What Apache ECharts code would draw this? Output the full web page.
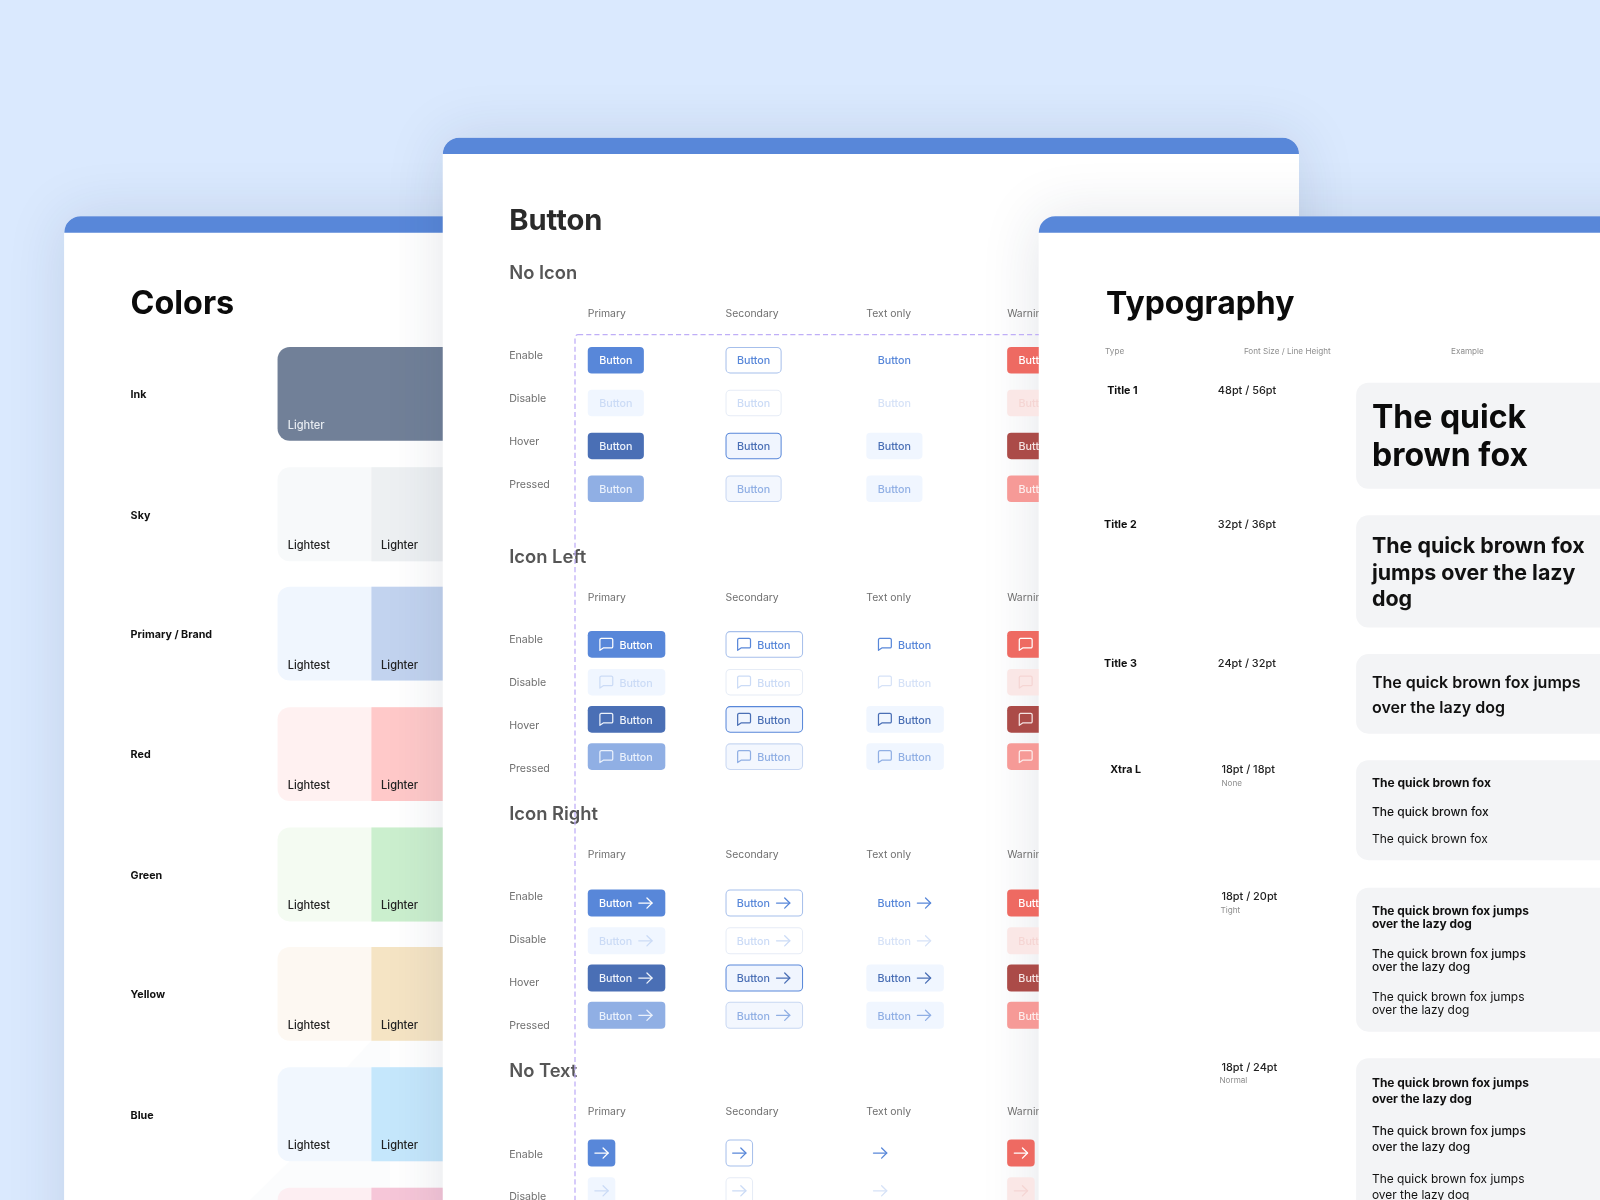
<!DOCTYPE html>
<html><head><meta charset="utf-8">
<script src="https://cdn.jsdelivr.net/npm/echarts@6/dist/echarts.min.js"></script>
<style>html,body{margin:0;padding:0;background:#DAE9FE}#c{width:1600px;height:1200px}</style>
</head><body><div id="c"></div>
<script>
// ---- content ----
const swatchNames = ['Ink','Sky','Primary / Brand','Red','Green','Yellow','Blue','Pink'];
const swatchLabels = ['Lightest','Lighter'];
const sectionNames = ['No Icon','Icon Left','Icon Right','No Text'];
const variantNames = ['Primary','Secondary','Text only','Warning'];
const stateNames = ['Enable','Disable','Hover','Pressed'];
const typeNames = ['Title 1','Title 2','Title 3','Xtra L'];
const sizeLabels = ['48pt / 56pt','32pt / 36pt','24pt / 32pt','18pt / 18pt','18pt / 20pt','18pt / 24pt'];
const lineKinds = ['None','Tight','Normal'];
const typeHeads = ['Type','Font Size / Line Height','Example'];
const exampleOne = ['The quick','brown fox'];
const exampleTwo = ['The quick brown fox','jumps over the lazy','dog'];
const exampleThree = ['The quick brown fox jumps','over the lazy dog'];
const exampleShort = 'The quick brown fox';

// ---- palette ----
const lightestColors = ['#718098','#F7F9FA','#F0F6FE','#FFF1F1','#F4FBF2','#FDF8F2','#F1F7FE','#FDEEF2'];
const lighterColors  = ['#718098','#EDF0F2','#C2D3EF','#FFC9C9','#CBEFCE','#F5E4C4','#C5E7FC','#F6C6D8'];
const BLUE = '#5887D9';
const palettes = {
  Primary:   [{f:BLUE,t:'#fff'},{f:'#F0F6FF',t:'#CBDBF6'},{f:'#4A6FB5',t:'#EEF3FB'},{f:'#90AFE4',t:'#EAF1FC'}],
  Secondary: [{f:'#fff',s:'#A6BFEB',t:BLUE},{f:'#fff',s:'#E6ECF6',t:'#CBDBF6'},{f:'#F0F5FE',s:'#5887D9',t:'#4A6FB5'},{f:'#F3F7FE',s:'#C8D7F2',t:'#90AFE4'}],
  'Text only':[{t:BLUE},{t:'#D6E2F7'},{f:'#F0F6FF',t:'#4A6FB5'},{f:'#F0F6FF',t:'#90AFE4'}],
  Warning:   [{f:'#EE6A62',t:'#fff'},{f:'#FAE7E6',t:'#F5D5D3'},{f:'#AB4B48',t:'#F5E4E3'},{f:'#F69A97',t:'#FDEDEC'}]
};

// ---- layout (in 1568-wide design units) ----
const FONT = 'Inter, "Noto Sans", sans-serif';
const swatchTop = [340,458,575,693,811,928,1046,1164];
const variantX = [576,711,849,987];
const sectionLayout = [
  {head:267,col:306.6,label:[348,390,432,474],btn:[353,395,437,479],w:55,h:26,kind:'none'},
  {head:545,col:584.6,label:[626,668,710,752],btn:[631.5,668.5,705,741.5],w:76,h:26,kind:'left'},
  {head:797,col:836.6,label:[878,920,962,1004],btn:[885,922,958.5,995],w:76,h:26.5,kind:'right'},
  {head:1049,col:1088.6,label:[1131,1172],btn:[1130,1167],w:27,h:26.5,kind:'only'}
];
const els = [];
const text = (s,x,y,size,weight,fill,extra) => ({type:'text',silent:true,style:Object.assign({text:s,x,y:y+size*.05+.5,fill,
  font:`${weight} ${size}px ${FONT}`,textAlign:'left',align:'left',textVerticalAlign:'middle',verticalAlign:'middle',textBaseline:'middle'},extra||{})});
const rect = (x,y,w,h,r,style) => ({type:'rect',silent:true,shape:{x,y,width:w,height:h,r},style});
const shadow = (x,y,w,h) => els.push(rect(x,y,w,h,[16,16,0,0],{fill:'#fff',shadowBlur:58,shadowColor:'rgba(30,45,80,0.125)'}));
const face = (x,y,w,h) => {
  els.push(rect(x,y,w,h,[16,16,0,0],{fill:'#fff'}));
  els.push(rect(x,y,w,16,[16,16,0,0],{fill:BLUE}));
};
const line = (pts,c,lw,x,y) => ({type:'polyline',silent:true,x,y,shape:{points:pts},
  style:{fill:null,stroke:c,lineWidth:lw,lineCap:'round',lineJoin:'round'}});
const arrowShaft = [[-6.5,0],[6.5,0]], arrowHead = [[1.5,-5],[6.5,0],[1.5,5]];
const bubbleOutline = [[-5.2,-5.8],[5.2,-5.8],[6,-5.4],[6.3,-4.6],[6.3,2.4],[6,3.2],[5.2,3.5],[-3,3.5],[-6.3,5.8],[-6.3,-4.6],[-6,-5.4],[-5.2,-5.8]];
const arrow = (cx,cy,c) => { els.push(line(arrowShaft,c,1.25,cx,cy)); els.push(line(arrowHead,c,1.25,cx,cy)); };
const bubble = (cx,cy,c) => { els.push(line(bubbleOutline,c,1.2,cx,cy)); };

// Colors card
shadow(63,212,800,1100); face(63,212,800,1100);
els.push(text('Colors',128,296,31.7,700,'#0B0B0B'));
els.push({type:'polygon',silent:true,shape:{points:[[340,1046],[365,1019],[382,1019],[382,1046]]},style:{fill:'#FBFCFD'}});
els.push({type:'polygon',silent:true,shape:{points:[[245,1176],[285,1137],[382,1137],[382,1176]]},style:{fill:'#FBFCFD'}});
swatchNames.forEach((name,i)=>{
  const y = swatchTop[i];
  if(i<7) els.push(text(name,128,y+46,10.5,700,'#111'));
  els.push(rect(272,y,320,92,12,{fill:lightestColors[i]}));
  if(i===0){ els.push(text(swatchLabels[1],282,y+76,10.8,500,'#E8ECF2')); return; }
  els.push(rect(364,y,228,92,0,{fill:lighterColors[i]}));
  els.push(text(swatchLabels[0],282,y+76,10.8,500,'#222'));
  els.push(text(swatchLabels[1],373.5,y+76,10.8,500,'#222'));
});

// Button card (the Typography card's shadow falls on its white ground, under its content)
shadow(434,135,839,1100); face(434,135,839,1100);
shadow(1018,212,620,1100);
els.push(text('Button',499,215,28.5,700,'#2A2A2A'));
sectionNames.forEach((sec,si)=>{
  const L = sectionLayout[si];
  els.push(text(sec,499,L.head,18,600,'#565656'));
  variantNames.forEach((v,vi)=>{ els.push(text(v,variantX[vi],L.col,10.2,400,'#6F6F6F')); });
  L.btn.forEach((cy,st)=>{
    els.push(text(stateNames[st],499,L.label[st],10.4,400,'#6F6F6F'));
    variantNames.forEach((v,vi)=>{
      const x = variantX[vi], p = palettes[v][st], y = cy-L.h/2;
      const plain = !p.f && !p.s;
      if(!plain) els.push(rect(x+(p.s?.5:0),y+(p.s?.5:0),L.w-(p.s?1:0),L.h-(p.s?1:0),4,{fill:p.f,stroke:p.s||null,lineWidth:p.s?1:0}));
      if(L.kind==='none') els.push(text('Button',x+27.5,cy,10.5,500,p.t,{textAlign:'center',align:'center'}));
      if(L.kind==='left'){ bubble(x+18.2,cy,p.t); els.push(text('Button',x+31,cy+.3,10.5,500,p.t)); }
      if(L.kind==='right'){ els.push(text('Button',x+11,cy,10.5,500,p.t)); arrow(x+56.5,cy,p.t); }
      if(L.kind==='only'){ arrow(x+13.5,cy,p.t); }
    });
  });
});
els.push(rect(563.5,328,700,900,3,{fill:null,stroke:'#BFAEF7',lineWidth:1.25,lineDash:[5,3]}));

// Typography card
face(1018,212,620,1100);
els.push(text('Typography',1084,296,31.3,700,'#0B0B0B'));
[[1083,0],[1219,1],[1422,2]].forEach(([x,i])=>els.push(text(typeHeads[i],x,344,8,400,'#8E8E8E')));
[[1085,382],[1082,513],[1082,649],[1088,753]].forEach(([x,y],i)=>els.push(text(typeNames[i],x,y,10.5,700,'#111')));
[[1193.5,382],[1193.5,513],[1193.5,649],[1197,753],[1197,878],[1197,1045]].forEach(([x,y],i)=>els.push(text(sizeLabels[i],x,y,10.7,500,'#222')));
[[1197,767],[1196,891],[1195,1058]].forEach(([x,y],i)=>els.push(text(lineKinds[i],x,y,8,400,'#8E8E8E')));
const box = (y,h) => els.push(rect(1329,y,320,h,12,{fill:'#F3F4F6'}));
box(375,104); box(505,110); box(641,78); box(745,98); box(870,141); box(1037,200);
exampleOne.forEach((s,i)=>els.push(text(s,1344.5,[408,445][i],31.4,700,'#0B0B0B')));
exampleTwo.forEach((s,i)=>els.push(text(s,1344.5,[534.5,560.5,586.5][i],21,700,'#111')));
exampleThree.forEach((s,i)=>els.push(text(s,1344.5,[668.5,692.5][i],15.7,600,'#111')));
[[767,700],[795,500],[822,400]].forEach(([y,w])=>els.push(text(exampleShort,1344.5,y,11.75,w,'#111')));
[[892,905,700],[934,947,500],[976,989,400],[1061,1076,700],[1108,1123,500],[1155,1170,400]].forEach(([a,b,w])=>{
  els.push(text(exampleThree[0],1344.5,a,11.7,w,'#111'));
  els.push(text(exampleThree[1],1344.5,b,11.7,w,'#111'));
});

const S = 1600/1568;
const chart = echarts.init(document.getElementById('c'),null,{width:1600,height:1200});
chart.setOption({backgroundColor:'#DAE9FE',animation:false,
  graphic:{elements:[{type:'group',x:0,y:0,scaleX:S,scaleY:S,silent:true,children:els}]}});
</script></body></html>
